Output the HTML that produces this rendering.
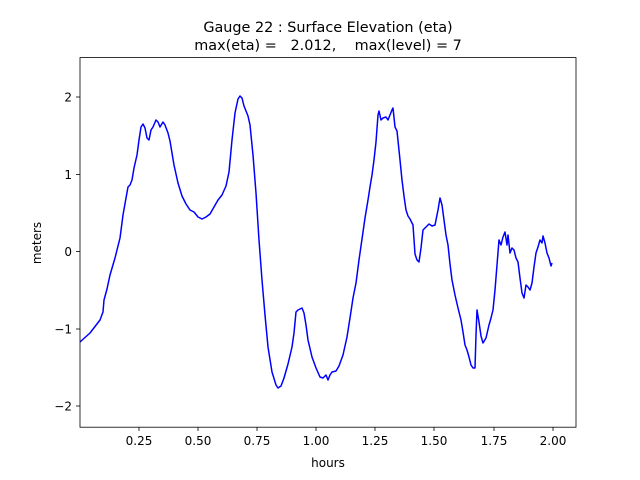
<!DOCTYPE html>
<html><head><meta charset="utf-8"><style>body{margin:0;background:#fff}svg{display:block}text{font-family:"DejaVu Sans","Liberation Sans",sans-serif;fill:#000}</style></head><body>
<svg width="640" height="480" viewBox="0 0 640 480" xmlns="http://www.w3.org/2000/svg">
<rect width="640" height="480" fill="#fff"/>
<text x="328" y="32" font-size="14.4" text-anchor="middle">Gauge 22 : Surface Elevation (eta)</text>
<text x="328" y="50" font-size="14.4" text-anchor="middle" xml:space="preserve">max(eta) =   2.012,    max(level) = 7</text>
<g stroke="#000" stroke-width="0.8">
<line x1="139" y1="427" x2="139" y2="431"/><line x1="198" y1="427" x2="198" y2="431"/><line x1="257" y1="427" x2="257" y2="431"/><line x1="316" y1="427" x2="316" y2="431"/><line x1="375" y1="427" x2="375" y2="431"/><line x1="434" y1="427" x2="434" y2="431"/><line x1="494" y1="427" x2="494" y2="431"/><line x1="553" y1="427" x2="553" y2="431"/>
<line x1="76" y1="97" x2="80" y2="97"/><line x1="76" y1="174.5" x2="80" y2="174.5"/><line x1="76" y1="251.5" x2="80" y2="251.5"/><line x1="76" y1="329" x2="80" y2="329"/><line x1="76" y1="406" x2="80" y2="406"/>
</g>
<g font-size="12" text-anchor="middle">
<text x="139" y="445">0.25</text><text x="198" y="445">0.50</text><text x="257" y="445">0.75</text><text x="316" y="445">1.00</text><text x="375" y="445">1.25</text><text x="434" y="445">1.50</text><text x="494" y="445">1.75</text><text x="553" y="445">2.00</text>
</g>
<g font-size="12" text-anchor="end">
<text x="72" y="101.5">2</text><text x="72" y="179">1</text><text x="72" y="256">0</text><text x="72" y="333.5">−1</text><text x="72" y="410.5">−2</text>
</g>
<text x="328" y="467" font-size="12" text-anchor="middle">hours</text>
<text transform="translate(41,243) rotate(-90)" font-size="12" text-anchor="middle">meters</text>
<polyline fill="none" stroke="#0000ff" stroke-width="1.5" stroke-linejoin="round" points="80,342 90,333 100,320 103,312 104,300 107,289 110,275 115,258 120,238 123,215 126,198 128,187 130,185 132,180 134,168 137,155 139,140 141,127 143,124 145,128 147,138 149,140 151,130 153,127 156,120 158,122 160,127 163,122 165,125 168,133 170,141 174,165 178,183 182,196 186,204 190,210 194,212 198,217 202,219 206,217 210,214 214,207 218,200 222,195 226,186 229,172 232,140 235,113 238,99 240,96 242,98 244,106 246,111 248,116 250,125 253,155 256,193 259,240 262,280 265,315 268,347 272,372 276,385 278,388 281,386 284,378 288,364 292,347 294,333 296,312 298,310 302,308 304,313 306,325 308,340 312,357 316,368 320,377 323,378 326,375 328,380 330,375 332,372 336,371 339,366 343,355 347,337 350,318 353,298 356,283 359,260 362,239 365,218 368,200 370,187 372,175 374,160 376,142 378,115 379,111 381,120 383,118 386,117 388,120 390,115 392,110 393,108 395,127 397,131 400,160 402,180 404,196 406,210 408,216 410,219 413,225 415,254 417,260 419,262 421,248 423,230 426,227 429,224 432,226 435,225 438,210 440,198 442,205 444,220 446,235 448,245 450,264 452,280 455,295 458,308 461,320 463,332 465,345 467,350 469,357 471,365 473,368 475,368 476,335 477,310 479,322 481,336 483,343 486,338 489,325 491,318 493,310 495,290 497,265 499,240 501,245 503,237 505,232 507,245 508,235 510,253 512,248 514,250 516,258 518,262 520,278 522,293 524,298 526,285 528,287 530,290 532,283 534,267 536,253 538,247 540,240 542,243 543,236 545,243 547,253 549,258 551,266 552,263"/>
<rect x="80" y="57.6" width="496" height="369.6" fill="none" stroke="#000" stroke-width="0.8"/>
</svg>
</body></html>
